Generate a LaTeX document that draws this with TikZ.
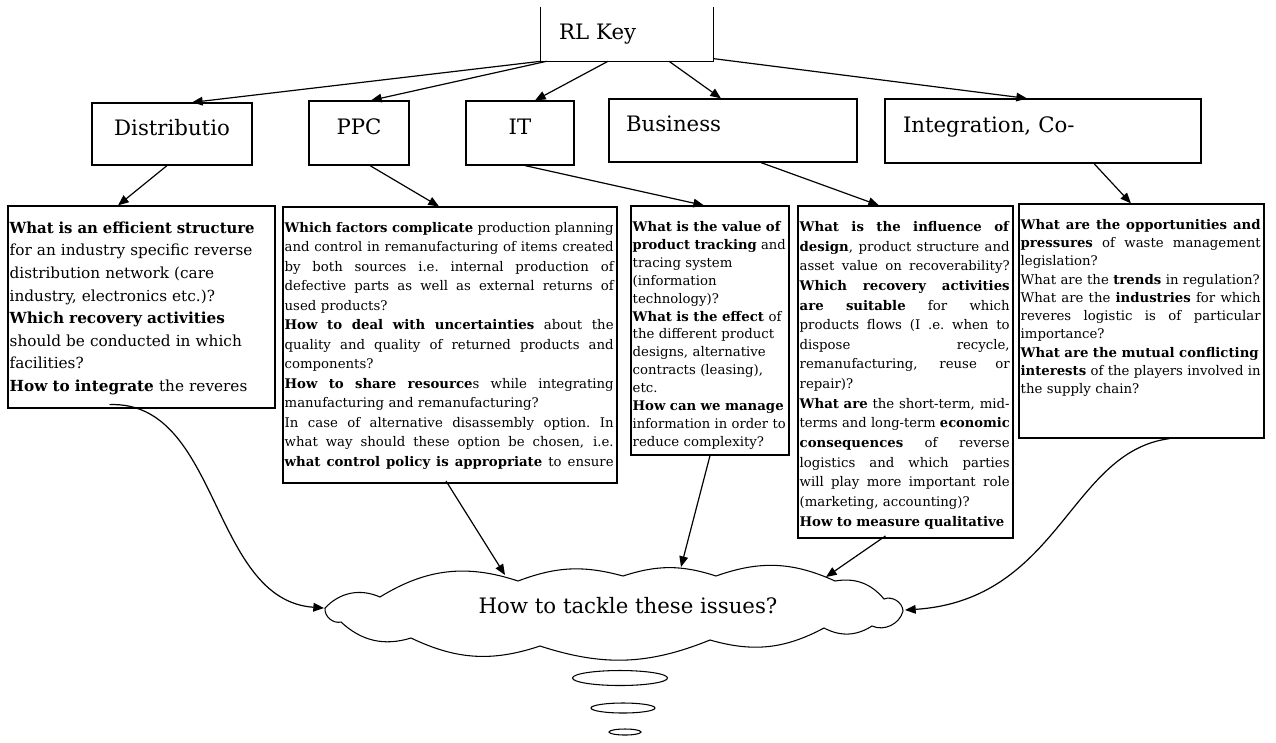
\documentclass[tikz,border=0pt]{standalone}
\usepackage{fontspec}
\setmainfont{DejaVu Serif}
\usepackage{graphicx}
\usetikzlibrary{shapes,arrows.meta,positioning,calc}

% one printed line of a question box: stretched (\jl) or as is (\rl),
% squeezed sideways when it is wider than the box
\newsavebox\qlinebox
\newcommand\jl[1]{\leavevmode\sbox\qlinebox{#1}%
  \ifdim\wd\qlinebox>\hsize\resizebox{\hsize}{\height}{\usebox\qlinebox}%
  \else\hbox to\hsize{\spaceskip=0.32em plus 1fil\xspaceskip=\spaceskip #1}\fi}
\newcommand\rl[1]{\leavevmode\sbox\qlinebox{#1}%
  \ifdim\wd\qlinebox>\hsize\resizebox{\hsize}{\height}{\usebox\qlinebox}%
  \else\usebox\qlinebox\fi}

\begin{document}
\begin{tikzpicture}[x=0.75bp, y=-0.75bp,
  head/.style={draw, line width=0.9pt, inner sep=0pt, text height=11bp, text depth=9bp,
    font=\fontsize{16}{19}\selectfont},
  qbox/.style={draw, line width=0.9pt, inner sep=0pt},
  qtext/.style={anchor=north west, inner sep=0pt, align=left},
  puff/.style={draw, ellipse, inner sep=0pt, line width=0.8pt},
  arr/.style={line width=0.9pt, -{Triangle[length=8bp,width=6.5bp]}}]

\useasboundingbox (0,0) rectangle (1276,742);

% Root
\node[inner sep=0pt, minimum width=129bp, minimum height=40.5bp, text width=102bp,
  align=left, font=\fontsize{16}{19}\selectfont] (rl) at (627,34) {RL Key};
\draw[line width=0.9pt] (rl.north west) |- (rl.south east) -- (rl.north east);

% Key areas
\node[head, minimum width=120bp, minimum height=46.5bp] (dist) at (172,134) {Distributio};
\node[head, minimum width=75bp, minimum height=48bp] (ppc) at (359,133) {PPC};
\node[head, minimum width=81bp, minimum height=48bp] (it) at (520,133) {IT};
\node[head, minimum width=186bp, minimum height=47.25bp, text width=160.5bp, align=left] (bus) at (733,130.5) {Business};
\node[head, minimum width=237bp, minimum height=48bp, text width=210bp, align=left] (integ) at (1043,131) {Integration, Co-};

\draw[arr] (rl.south west) -- ([xshift=15bp]dist.north);
\draw[arr] ([xshift=4.5bp]rl.south west) -- ([xshift=9bp]ppc.north);
\draw[arr] ([xshift=-14.25bp]rl.south) -- ([xshift=11.25bp]it.north);
\draw[arr] ([xshift=31.5bp]rl.south) -- ([xshift=-9bp]bus.north);
\draw[arr] ([yshift=2bp]rl.south east) -- ([xshift=-12bp]integ.north);

% Question boxes
\node[qbox, minimum width=200.25bp, minimum height=151.5bp] (q1) at (141.5,307) {};
\node[qtext, text width=183.75bp, font=\fontsize{11.5}{17}\selectfont] (q1text)
  at ([xshift=1.5bp, yshift=-12bp]q1.north west) {
\rl{\textbf{What is an efficient structure}}\\
\rl{for an industry specific reverse}\\
distribution network (care\\
industry, electronics etc.)?\\
\rl{\textbf{Which recovery activities}}\\
should be conducted in which\\
facilities?\\
\rl{\textbf{How to integrate} the reveres}};

\node[qbox, minimum width=250.5bp, minimum height=207bp] (q2) at (450,345) {};
\node[qtext, text width=246.75bp, font=\fontsize{10}{14.7}\selectfont] (q2text)
  at ([xshift=1.5bp, yshift=-11.5bp]q2.north west) {
\jl{\textbf{Which factors complicate} production planning}\\
\jl{and control in remanufacturing of items created}\\
\jl{by both sources i.e. internal production of}\\
\jl{defective parts as well as external returns of}\\
used products?\\
\jl{\textbf{How to deal with uncertainties} about the}\\
\jl{quality and quality of returned products and}\\
components?\\
\jl{\textbf{How to share resource}s while integrating}\\
manufacturing and remanufacturing?\\
\jl{In case of alternative disassembly option. In}\\
\jl{what way should these option be chosen, i.e.}\\
\jl{\textbf{what control policy is appropriate} to ensure}};

\node[qbox, minimum width=118.5bp, minimum height=186.75bp] (q3) at (710,330.5) {};
\node[qtext, text width=114.75bp, font=\fontsize{10}{13.5}\selectfont] (q3text)
  at ([xshift=1.5bp, yshift=-11.7bp]q3.north west) {
\rl{\textbf{What is the value of}}\\
\rl{\textbf{product tracking} and}\\
tracing system\\
(information\\
technology)?\\
\rl{\textbf{What is the effect} of}\\
\rl{the different product}\\
designs, alternative\\
contracts (leasing),\\
etc.\\
\rl{\textbf{How can we manage}}\\
\rl{information in order to}\\
reduce complexity?};

\node[qbox, minimum width=161.25bp, minimum height=249bp] (q4) at (905.5,372) {};
\node[qtext, text width=157.5bp, font=\fontsize{10}{14.8}\selectfont] (q4text)
  at ([xshift=1.5bp, yshift=-11.7bp]q4.north west) {
\jl{\textbf{What is the influence of}}\\
\jl{\textbf{design}, product structure and}\\
\jl{asset value on recoverability?}\\
\jl{\textbf{Which recovery activities}}\\
\jl{\textbf{are suitable} for which}\\
\jl{products flows (I .e. when to}\\
\jl{dispose recycle,}\\
\jl{remanufacturing, reuse or}\\
repair)?\\
\jl{\textbf{What are} the short-term, mid-}\\
\jl{terms and long-term \textbf{economic}}\\
\jl{\textbf{consequences} of reverse}\\
\jl{logistics and which parties}\\
\jl{will play more important role}\\
(marketing, accounting)?\\
\rl{\textbf{How to measure qualitative}}};

\node[qbox, minimum width=183.75bp, minimum height=175.5bp] (q5) at (1141.5,321) {};
\node[qtext, text width=180bp, font=\fontsize{10}{13.75}\selectfont] (q5text)
  at ([xshift=1.5bp, yshift=-11.7bp]q5.north west) {
\jl{\textbf{What are the opportunities and}}\\
\jl{\textbf{pressures} of waste management}\\
legislation?\\
\rl{What are the \textbf{trends} in regulation?}\\
\jl{What are the \textbf{industries} for which}\\
\jl{reveres logistic is of particular}\\
importance?\\
\rl{\textbf{What are the mutual conflicting}}\\
\jl{\textbf{interests} of the players involved in}\\
the supply chain?};

\draw[arr] ([xshift=-3.75bp]dist.south) -- ([xshift=-17.6bp]q1.north);
\draw[arr] ([xshift=8.25bp]ppc.south) -- ([xshift=-8.25bp]q2.north);
\draw[arr] ([xshift=3.75bp]it.south) -- ([xshift=-4.5bp]q3.north);
\draw[arr] ([xshift=21bp]bus.south) -- ([xshift=-19.9bp]q4.north);
\draw[arr] ([xshift=38.25bp]integ.south) -- ([xshift=-7.9bp]q5.north);

% Thought cloud
\draw[line width=0.8pt] (380,597) to[bend left=25] (518,581) to[bend left=18] (623,576)
  to[bend left=18] (716,576) to[bend left=22] (835,581) to[bend left=30] (884,599)
  to[bend left=55] (903,611) to[bend left=50] (872,626) to[bend left=30] (824,628)
  to[bend left=22] (710,640) to[bend left=20] (540,646) to[bend left=22] (411,638)
  to[bend left=30] (341,622) to[bend left=55] (325,608) to[bend left=35] cycle;
\node[font=\fontsize{16}{19}\selectfont, inner sep=0pt] (cloud) at (628,606) {How to tackle these issues?};
\node[puff, minimum width=71.25bp, minimum height=11.25bp] (e1) at (620,678) {};
\node[puff, minimum width=48bp, minimum height=7.5bp] (e2) at (623,708) {};
\node[puff, minimum width=24bp, minimum height=4.5bp] (e3) at (625,732) {};

\draw[arr] ([xshift=-24bp, yshift=3bp]q1.south) .. controls +(111,-4) and +(-114,-8) .. ([shift={(-304,2)}]cloud.center);
\draw[arr] ([xshift=-3bp, yshift=2bp]q2.south) -- ([shift={(-123,-31)}]cloud.center);
\draw[arr] (q3.south) -- ([shift={(53,-39)}]cloud.center);
\draw[arr] ([xshift=-15bp, yshift=2bp]q4.south) -- ([shift={(198,-29)}]cloud.center);
\draw[arr] ([xshift=21bp]q5.south) .. controls +(-100,13) and +(155,-10) .. ([shift={(277,4)}]cloud.center);

\end{tikzpicture}
\end{document}
